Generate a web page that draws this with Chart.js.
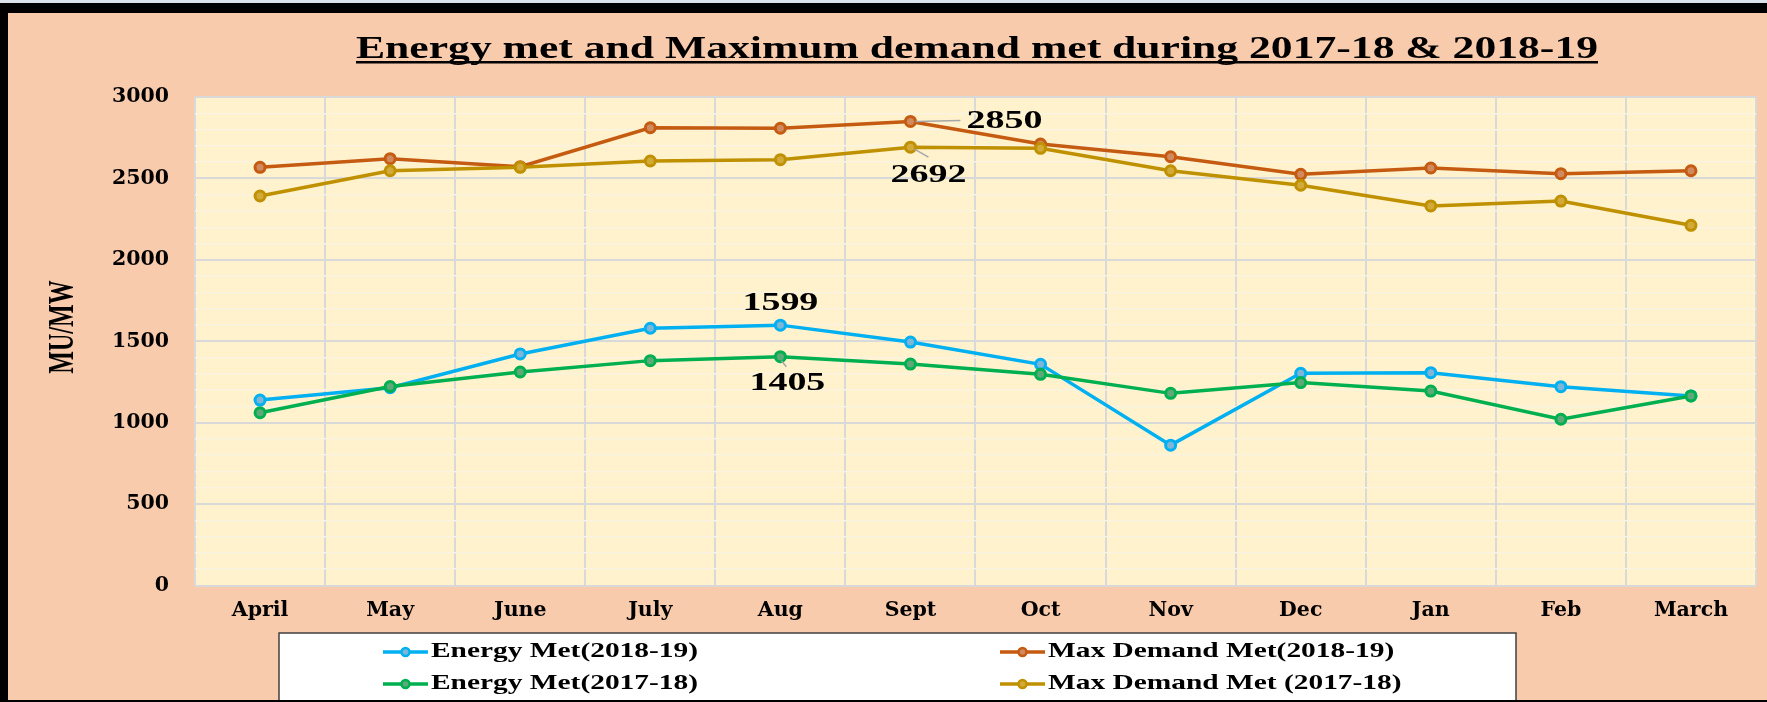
<!DOCTYPE html>
<html><head><meta charset="utf-8">
<script src="https://cdn.jsdelivr.net/npm/chart.js@4/dist/chart.umd.min.js"></script>
<style>
html,body{margin:0;padding:0;background:#000;width:1767px;height:702px;overflow:hidden}
#topstrip{position:absolute;left:0;top:0;width:1767px;height:3px;background:#dde2ea}
#wrap{position:absolute;left:8px;top:13px;width:1759px;height:687px;background:#F8CBAD}
</style></head><body>
<div id="topstrip"></div>
<div id="wrap"><canvas id="c"></canvas></div>
<script>
// ---- data ----
const months = ['April','May','June','July','Aug','Sept','Oct','Nov','Dec','Jan','Feb','March'];
const energyMet1819 = [1139, 1215, 1422, 1580, 1599, 1495, 1358, 862, 1303, 1307, 1221, 1164];
const maxDemand1819 = [2568, 2621, 2572, 2811, 2808, 2850, 2711, 2633, 2525, 2564, 2529, 2547];
const energyMet1718 = [1061, 1222, 1311, 1381, 1405, 1360, 1297, 1180, 1246, 1194, 1021, 1164];
const maxDemand1718 = [2392, 2547, 2568, 2607, 2615, 2692, 2685, 2547, 2458, 2331, 2361, 2212];
const seriesNames = ['Energy Met(2018-19)', 'Max Demand Met(2018-19)', 'Energy Met(2017-18)', 'Max Demand Met (2017-18)'];
const chartTitle = 'Energy met and Maximum demand met during 2017-18 & 2018-19';
const yAxisTitle = 'MU/MW';
const yMin = 0, yMax = 3000, yMajorStep = 500, yMinorStep = 100;
// points carrying value labels: [datasetIndex, categoryIndex]
const labelledPoints = [[1, 5], [3, 5], [0, 4], [2, 4]];

// ---- styles ----
const colors = ['#00B0F0', '#C55A11', '#00B050', '#BF9000'];
const centers = ['#7DB6D6', '#D08A5E', '#5FA878', '#D2AA3A'];
const SX = 1.46; // horizontal stretch of serif texts
const serif = '"Liberation Serif", "Times New Roman", serif';
const annStyle = [
  {dx: 94, dy: 0, l: [5, 0, 50, -1]},
  {dx: 18, dy: 28, l: [4, 2, 18, 10]},
  {dx: 0, dy: -22, l: null},
  {dx: 7, dy: 27, l: [1, 4, 6, 10]}
];
const legendPos = [[375, 639], [992, 639], [375, 671], [992, 671]];

function sText(ctx, text, x, y, align, sx) {
  ctx.save(); ctx.translate(x, y); ctx.scale(sx, 1); ctx.textAlign = align; ctx.fillText(text, 0, 0); ctx.restore();
}

const decor = {
  id: 'decor',
  beforeDraw(chart) {
    const {ctx, chartArea: a} = chart;
    ctx.save(); ctx.fillStyle = '#FFF2CC';
    ctx.fillRect(a.left, a.top, a.right - a.left, a.bottom - a.top); ctx.restore();
  },
  afterDraw(chart) {
    const ctx = chart.ctx;
    ctx.save();
    // title
    ctx.fillStyle = '#000';
    ctx.font = 'bold 31px ' + serif;
    ctx.textBaseline = 'alphabetic';
    const w = ctx.measureText(chartTitle).width;
    const tw = 1242, sx = tw / w, cx = 969;
    sText(ctx, chartTitle, cx, 45, 'center', sx);
    ctx.fillRect(cx - tw / 2, 48, tw, 2.5);
    // y axis title (rotated, stretched across)
    ctx.save();
    ctx.translate(56, 314); ctx.rotate(-Math.PI / 2); ctx.scale(1, 1.5);
    ctx.font = 'bold 24px ' + serif; ctx.textAlign = 'center'; ctx.textBaseline = 'middle';
    ctx.fillText(yAxisTitle, 0, 0);
    ctx.restore();
    // value labels
    ctx.font = 'bold 26px ' + serif;
    ctx.textBaseline = 'middle';
    labelledPoints.forEach((p, i) => {
      const el = chart.getDatasetMeta(p[0]).data[p[1]];
      const v = chart.data.datasets[p[0]].data[p[1]];
      const s = annStyle[i];
      if (s.l) {
        ctx.strokeStyle = '#A6A6A6'; ctx.lineWidth = 1.5;
        ctx.beginPath(); ctx.moveTo(el.x + s.l[0], el.y + s.l[1]); ctx.lineTo(el.x + s.l[2], el.y + s.l[3]); ctx.stroke();
      }
      ctx.fillStyle = '#000';
      sText(ctx, String(v), el.x + s.dx, el.y + s.dy, 'center', SX);
    });
    // legend
    ctx.fillStyle = '#fff'; ctx.fillRect(271, 620, 1237, 68);
    ctx.strokeStyle = '#404040'; ctx.lineWidth = 1.5; ctx.strokeRect(271, 620, 1237, 68);
    ctx.font = 'bold 21px ' + serif;
    chart.data.datasets.forEach((ds, i) => {
      const [x, y] = legendPos[i];
      ctx.strokeStyle = ds.borderColor; ctx.lineWidth = 3.5;
      ctx.beginPath(); ctx.moveTo(x, y); ctx.lineTo(x + 45, y); ctx.stroke();
      ctx.beginPath(); ctx.arc(x + 22.5, y, 4, 0, Math.PI * 2);
      ctx.fillStyle = ds.pointBackgroundColor; ctx.fill(); ctx.lineWidth = 2.5; ctx.stroke();
      ctx.fillStyle = '#000';
      sText(ctx, ds.label, x + 48, y, 'left', 1.4);
    });
    ctx.restore();
  }
};

const series = [energyMet1819, maxDemand1819, energyMet1718, maxDemand1718];
const drawOrder = [4, 3, 2, 1];
const datasets = series.map((d, i) => ({
  label: seriesNames[i],
  data: d,
  borderColor: colors[i],
  backgroundColor: colors[i],
  pointBackgroundColor: centers[i],
  pointBorderColor: colors[i],
  borderWidth: 3.5,
  pointRadius: 5,
  pointBorderWidth: 3,
  tension: 0,
  order: drawOrder[i]
}));

new Chart(document.getElementById('c'), {
  type: 'line',
  data: {labels: months, datasets},
  options: {
    responsive: true,
    maintainAspectRatio: false,
    animation: false,
    layout: {padding: {left: 0, right: 11, top: 84, bottom: 69.5}},
    plugins: {legend: {display: false}, title: {display: false}, tooltip: {enabled: false}},
    scales: {
      x: {
        offset: true,
        grid: {color: '#D9D9D9', lineWidth: 2, drawTicks: false, offset: true},
        border: {display: false},
        ticks: {color: '#000', padding: 12.5, font: {family: '"DejaVu Serif"', weight: 'bold', size: 20.5}, maxRotation: 0},
        afterFit(s) { s.height = 45; }
      },
      y: {
        min: yMin, max: yMax,
        grid: {
          drawTicks: false,
          color: c => (c.tick && c.tick.value % yMajorStep === 0) ? '#D9D9D9' : '#FAF3E2',
          lineWidth: c => (c.tick && c.tick.value % yMajorStep === 0) ? 2 : 1.5
        },
        border: {display: false},
        ticks: {
          stepSize: yMinorStep, autoSkip: false, color: '#000', padding: 26,
          font: {family: '"DejaVu Serif"', weight: 'bold', size: 20.5},
          callback: v => (v % yMajorStep === 0 ? v : '')
        },
        title: {display: false, text: yAxisTitle},
        afterFit(s) { s.width = 187; }
      }
    }
  },
  plugins: [decor]
});
</script>
</body></html>
